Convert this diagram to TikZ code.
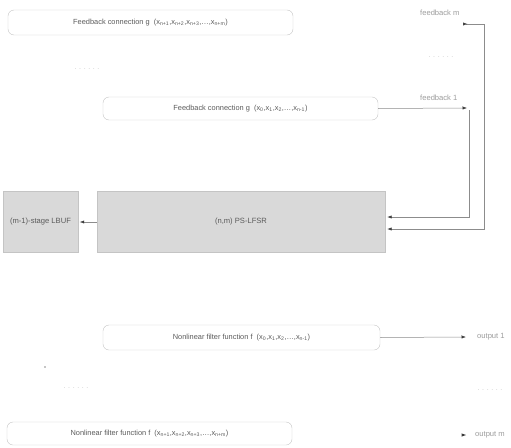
\documentclass[tikz,border=0pt]{standalone}
\usepackage{fontspec}
\setmainfont{Liberation Sans}
\usetikzlibrary{arrows.meta}
\definecolor{ln}{HTML}{8C8C8C}
\definecolor{hd}{HTML}{3A3A3A}
\definecolor{bd}{HTML}{C4C4C4}
\definecolor{tx}{HTML}{5A5A5A}
\definecolor{lt}{HTML}{9C9C9C}
\definecolor{gf}{HTML}{D9D9D9}
\newcommand\sbx[1]{\textsubscript{#1}}
\begin{document}
\begin{tikzpicture}[x=1pt,y=-1pt,
  rbox/.style={draw=bd, rounded corners=6pt, text=tx, font=\fontsize{7.4}{8}\selectfont, inner sep=0pt},
  gbox/.style={draw=bd, fill=gf, text=tx, font=\fontsize{7.6}{9}\selectfont, inner sep=0pt},
  lbl/.style={text=lt, font=\fontsize{7.6}{9}\selectfont, inner sep=0pt, anchor=west},
  dots/.style={text=bd, font=\fontsize{7}{8}\selectfont, inner sep=0pt},
  conn/.style={draw=ln, line width=0.5pt},
  tip/.style={-{Latex[length=4.5pt,width=3.2pt,color=hd]}}]
\useasboundingbox (0,0) rectangle (511,447);

\node[rbox, minimum width=285pt, minimum height=25pt] (g2) at (150.5,22.5)
  {Feedback connection g\ \ (x\sbx{n+1},x\sbx{n+2},x\sbx{n+3},\dots,x\sbx{n+m})};
\node[rbox, minimum width=275pt, minimum height=23pt] (g1) at (240.5,108.5)
  {Feedback connection g\ \ (x\sbx{0},x\sbx{1},x\sbx{2},\dots,x\sbx{n-1})};
\node[gbox, minimum width=75pt, minimum height=61pt] (lbuf) at (40.5,222) {(m-1)-stage LBUF};
\node[gbox, minimum width=288pt, minimum height=61pt] (lfsr) at (241,222) {(n,m) PS-LFSR};
\node[rbox, minimum width=277pt, minimum height=25pt] (f1) at (241.5,337.5)
  {Nonlinear filter function f\ \ (x\sbx{0},x\sbx{1},x\sbx{2},\dots,x\sbx{n-1})};
\node[rbox, minimum width=285pt, minimum height=23pt] (f2) at (149.5,433.5)
  {Nonlinear filter function f\ \ (x\sbx{n+1},x\sbx{n+2},x\sbx{n+3},\dots,x\sbx{n+m})};

\node[lbl] (lfbm) at (420,13) {feedback m};
\node[lbl] (lfb1) at (420,98) {feedback 1};
\node[lbl] (lo1) at (477,337) {output 1};
\node[lbl] (lom) at (475,435) {output m};

\node[dots] (d1) at (87,69) {. . . . . .};
\node[dots] (d2) at (441,57) {. . . . . .};
\node[dots] (d3) at (76,388) {. . . . . .};
\node[dots] (d4) at (490,390) {. . . . . .};
\fill[ln] (45,367) circle (0.8pt);

\coordinate (fb1) at (467,108);
\coordinate (fb1s) at (469,110);
\coordinate (fbm) at (463,24);
\coordinate (fbmc) at (484,24);
\coordinate (o1) at (466,337);
\coordinate (om) at (466,435);

\draw[conn, tip] (g1.east) -- (fb1);
\draw[conn, tip] (fb1s) |- ([yshift=5pt,xshift=2pt]lfsr.east);
\draw[conn, {Latex[length=4.5pt,width=3.2pt,reversed,color=hd]}-] (fbm) -- (fbmc);
\draw[conn, tip] (fbmc) |- ([yshift=-7pt,xshift=2pt]lfsr.east);
\draw[conn, tip] (lfsr.west) -- ([xshift=1.5pt]lbuf.east);
\draw[conn, tip] (f1.east) -- (o1);
\fill[hd] (om) -- ++(-4.5,-1.6) -- ++(0,3.2) -- cycle;
\end{tikzpicture}
\end{document}
